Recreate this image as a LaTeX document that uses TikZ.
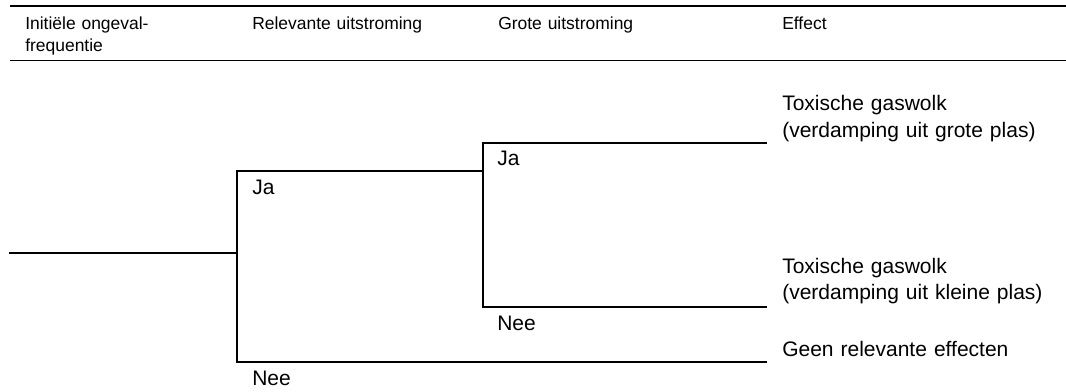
\documentclass[tikz,border=0pt]{standalone}
\usepackage{fontspec}
\setmainfont{Liberation Sans}
\begin{document}
\begin{tikzpicture}[x=0.75pt,y=-0.75pt,
  tree/.style={line width=1.4pt, line join=miter, line cap=rect},
  rulestyle/.style={line width=1.4pt},
  lbl/.style={anchor=base west, inner sep=0pt, font=\fontsize{15.75}{19.9}\selectfont, text width=300pt, align=left},
  head/.style={lbl, font=\fontsize{13.1}{16.8}\selectfont}]
\useasboundingbox (0,0) rectangle (1066,392);
% header rules
\coordinate (r1a) at (10,6);
\coordinate (r1b) at (1066,6);
\coordinate (r2a) at (10,60.5);
\coordinate (r2b) at (1066,60.5);
\draw[rulestyle] (r1a) -- (r1b);
\draw[rulestyle] (r2a) -- (r2b);
% headers
\node[head] (h1) at (25,29.3) {Initiële ongeval-\\frequentie};
\node[head] (h2) at (252,29.3) {Relevante uitstroming};
\node[head] (h3) at (498,29.3) {Grote uitstroming};
\node[head] (h4) at (782,29.3) {Effect};
% tree points
\coordinate (root) at (10,253);
\coordinate (b1) at (237,253);
\coordinate (b1top) at (237,171);
\coordinate (b1bot) at (237,362);
\coordinate (b2) at (483,171);
\coordinate (b2top) at (483,143);
\coordinate (b2bot) at (483,307);
\coordinate (e1) at (766,143);
\coordinate (e2) at (766,307);
\coordinate (e3) at (766,362);
\draw[tree] (root) -- (b1);
\draw[tree] (b2) -- (b1top) -- (b1bot) -- (e3);
\draw[tree] (e1) -- (b2top) -- (b2bot) -- (e2);
% branch labels
\node[lbl] (ja1) at (252,194) {Ja};
\node[lbl] (nee1) at (252,385) {Nee};
\node[lbl] (ja2) at (497,166) {Ja};
\node[lbl] (nee2) at (497,330) {Nee};
% effects
\node[lbl] (ef1) at (782,110.5) {Toxische gaswolk\\(verdamping uit grote plas)};
\node[lbl] (ef2) at (782,273) {Toxische gaswolk\\(verdamping uit kleine plas)};
\node[lbl] (ef3) at (782,356) {Geen relevante effecten};
\end{tikzpicture}
\end{document}
